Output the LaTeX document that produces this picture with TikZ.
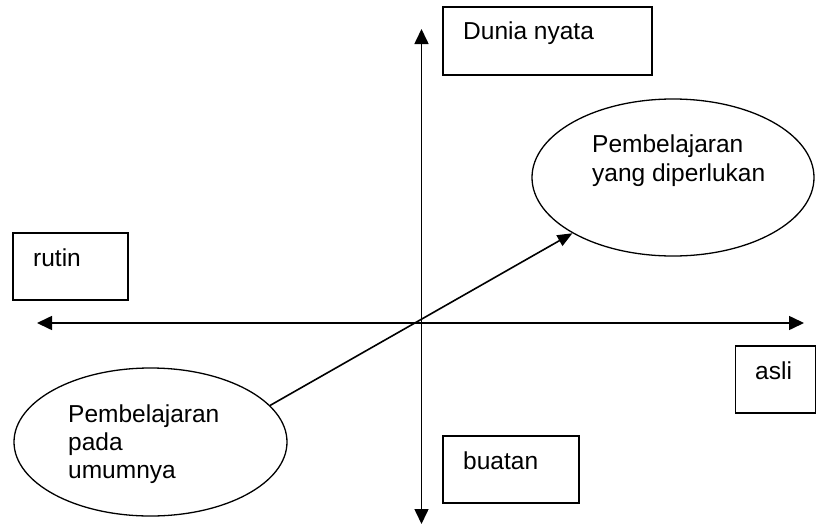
\documentclass[tikz,border=0pt]{standalone}
\usepackage{fontspec}
\setmainfont{Liberation Sans}
\usetikzlibrary{shapes.geometric,arrows.meta}
\begin{document}
\begin{tikzpicture}[x=1pt,y=-1pt,
  box/.style={draw, line width=1.5pt, rectangle, inner sep=0pt},
  oval/.style={draw, line width=1.3pt, ellipse, inner sep=0pt},
  txt/.style={inner sep=0pt, anchor=base west, font=\fontsize{24.5}{29}\selectfont},
  axis/.style={line width=1.6pt, {Triangle[length=15pt,width=14pt]}-{Triangle[length=15pt,width=14pt]}},
  conn/.style={line width=1.6pt, -{Triangle[length=15pt,width=12pt]}}]
\useasboundingbox (0,0) rectangle (817,525);
% axes
\coordinate (top) at (421.5,29);
\coordinate (bot) at (421.5,524);
\coordinate (lft) at (37,323);
\coordinate (rgt) at (804,323);
\draw[axis] (top) -- (bot);
\draw[axis] (lft) -- (rgt);
% boxes
\node[box, minimum width=209pt, minimum height=68pt] (dunia) at (547.5,41) {};
\node[txt] (tdunia) at (463,39) {Dunia nyata};
\node[box, minimum width=115pt, minimum height=67pt] (rutin) at (70.5,266.5) {};
\node[txt] (trutin) at (33,266) {rutin};
\node[box, minimum width=80pt, minimum height=67pt] (asli) at (775.5,379.5) {};
\node[txt] (tasli) at (755,379) {asli};
\node[box, minimum width=136pt, minimum height=67pt] (buatan) at (511,469.5) {};
\node[txt] (tbuatan) at (463,469) {buatan};
% ellipses
\node[oval, minimum width=282pt, minimum height=157pt] (perlu) at (673,177.5) {};
\node[txt] (tperlu) at (592,152) {\begin{tabular}[t]{@{}l@{}}Pembelajaran\\yang diperlukan\end{tabular}};
\node[oval, minimum width=273pt, minimum height=148pt] (umum) at (150.5,442) {};
\node[txt, font=\fontsize{24.5}{28}\selectfont] (tumum) at (68,422) {\begin{tabular}[t]{@{}l@{}}Pembelajaran\\pada\\umumnya\end{tabular}};
% connector
\draw[conn] (umum.17.1) -- (perlu.209.6);
\end{tikzpicture}
\end{document}
